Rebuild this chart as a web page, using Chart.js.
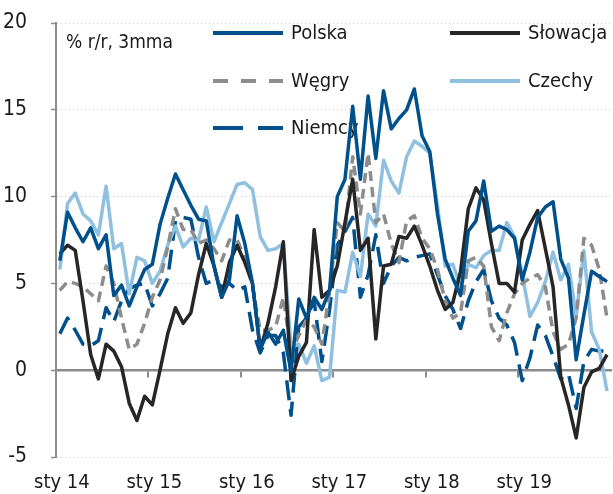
<!DOCTYPE html>
<html><head><meta charset="utf-8">
<script src="https://cdn.jsdelivr.net/npm/chart.js@4.4.0/dist/chart.umd.min.js"></script>
<style>html,body{margin:0;padding:0;background:#fff;}canvas{display:block}</style>
</head><body>
<canvas id="c" width="613" height="494"></canvas>
<script>
const FONT = "'DejaVu Sans Condensed','DejaVu Sans',sans-serif";
const monthNames = ['sty','lut','mar','kwi','maj','cze','lip','sie','wrz','paź','lis','gru'];
const years = ['14','15','16','17','18','19'];
const categories = [];
years.forEach(y => monthNames.forEach(m => categories.push(m + ' ' + y)));
const unitNote = '% r/r, 3mma';
const seriesNames = ['Polska', 'Słowacja', 'Węgry', 'Czechy', 'Niemcy'];

const polska = [6.3, 9.1, 8.2, 7.4, 8.2, 7.0, 7.8, 4.3, 4.9, 3.7, 4.8, 5.8,
  6.1, 8.4, 9.9, 11.3, 10.4, 9.5, 8.7, 8.6, 6.0, 4.2, 5.2, 8.9,
  7.3, 5.0, 1.2, 2.2, 1.5, 2.3, -0.1, 4.1, 3.0, 4.2, 3.5, 4.6,
  10.0, 11.0, 15.2, 11.0, 15.8, 12.2, 16.1, 13.9, 14.5, 15.0, 16.2, 13.5,
  12.6, 9.0, 6.4, 5.3, 4.3, 8.0, 8.6, 10.9, 8.0, 8.3, 8.1, 7.6,
  5.2, 6.8, 8.8, 9.4, 9.7, 6.4, 5.3, 0.6, 3.2, 5.7, 5.4, 5.1];
const slowacja = [6.7, 7.2, 6.9, 4.0, 0.9, -0.5, 1.5, 1.1, 0.2, -1.9, -2.9, -1.5,
  -2.0, 0.0, 2.1, 3.6, 2.7, 3.3, 5.5, 7.3, 6.0, 4.2, 6.2, 7.2,
  6.2, 5.0, 1.2, 2.7, 4.8, 7.4, -0.6, 0.8, 1.6, 8.1, 4.2, 4.6,
  6.0, 8.5, 11.0, 6.9, 7.6, 1.8, 6.0, 6.1, 7.7, 7.6, 8.3, 7.2,
  6.0, 4.6, 3.5, 3.9, 5.7, 9.3, 10.5, 9.8, 7.3, 5.0, 5.0, 4.5,
  7.5, 8.4, 9.2, 7.0, 4.8, -0.4, -2.0, -3.9, -1.0, -0.1, 0.1, 0.9];
const wegry = [4.6, 5.1, 5.0, 4.8, 4.4, 4.0, 6.0, 5.0, 3.0, 1.2, 1.5, 2.7,
  4.2, 5.2, 7.1, 9.3, 8.1, 8.1, 7.3, 7.5, 7.0, 6.3, 7.5, 7.5,
  6.5, 4.8, 2.3, 2.3, 2.5, 4.2, 1.0, 2.0, 2.9, 2.5, 1.5, 4.5,
  8.5, 8.0, 12.3, 9.0, 12.5, 8.5, 9.0, 7.3, 6.2, 8.6, 8.9, 7.6,
  7.0, 5.8, 4.0, 3.0, 3.3, 6.3, 6.5, 6.0, 2.5, 1.7, 3.3, 4.4,
  5.0, 5.3, 5.5, 4.8, 2.2, 1.2, 1.5, 3.0, 7.6, 7.2, 5.8, 3.0];
const czechy = [5.8, 9.6, 10.2, 9.0, 8.6, 7.8, 10.6, 7.0, 7.3, 4.4, 6.5, 6.3,
  5.0, 5.7, 7.2, 8.3, 7.1, 7.6, 7.5, 9.4, 7.4, 8.5, 9.6, 10.7,
  10.8, 10.4, 7.7, 6.9, 7.0, 7.3, 1.3, 1.5, 0.4, 1.4, -0.6, -0.4,
  4.6, 4.5, 6.8, 5.4, 9.0, 8.3, 12.1, 10.9, 10.2, 12.3, 13.2, 12.9,
  12.5, 9.5, 6.0, 6.1, 4.8, 6.1, 5.9, 6.6, 6.9, 6.9, 8.5, 7.7,
  5.5, 3.1, 3.9, 5.1, 6.8, 5.2, 6.1, 3.1, 6.9, 2.2, 1.2, -1.2];
const niemcy = [2.1, 3.0, 2.3, 1.5, 1.4, 1.7, 3.6, 2.8, 4.0, 4.7, 4.9, 5.0,
  3.7, 4.4, 5.3, 8.6, 8.8, 8.7, 6.5, 5.0, 5.2, 4.8, 5.0, 4.6,
  4.8, 2.3, 1.0, 2.0, 2.0, 1.0, -2.6, 2.5, 3.0, 4.0, 0.5, 3.5,
  7.2, 8.0, 8.8, 4.2, 5.5, 7.8, 5.0, 6.0, 6.5, 6.3, 6.5, 6.6,
  6.7, 5.5, 4.3, 3.5, 2.4, 4.0, 5.1, 5.8, 4.0, 3.0, 2.6, 1.6,
  -0.6, 0.7, 2.6, 2.0, 0.8, -0.5, -0.2, -2.2, 0.5, 1.2, 1.1, 1.1];

const colors = ['#00508c', '#262626', '#8c8c8c', '#8fc0e0', '#00508c'];
const dashes = [[], [], [10, 6], [], [20, 9]];
const legendDashes = [[], [], [15, 13], [], [30, 15]];
const values = [polska, slowacja, wegry, czechy, niemcy];

const gridLegend = {
  id: 'gridLegend',
  beforeDatasetsDraw(chart, args, opts) {
    const ctx = chart.ctx;
    ctx.save();
    chart.data.datasets.forEach((ds, i) => {
      const p = opts.layout[i];
      ctx.strokeStyle = ds.borderColor;
      ctx.lineWidth = 4;
      ctx.setLineDash(legendDashes[i]);
      ctx.beginPath();
      ctx.moveTo(p.x, p.y);
      ctx.lineTo(p.x + opts.lineLen, p.y);
      ctx.stroke();
      ctx.setLineDash([]);
      ctx.fillStyle = opts.color;
      ctx.font = opts.font;
      ctx.textBaseline = 'middle';
      ctx.textAlign = 'left';
      ctx.fillText(ds.label, p.x + opts.lineLen + 8, p.y + 1);
    });
    ctx.font = opts.noteFont;
    ctx.fillText(unitNote, opts.note.x, opts.note.y);
    ctx.restore();
  }
};

new Chart(document.getElementById('c'), {
  type: 'line',
  data: {
    labels: categories,
    datasets: seriesNames.map((n, i) => ({
      label: n,
      data: values[i],
      borderColor: colors[i],
      backgroundColor: colors[i],
      borderWidth: 3.5,
      borderDash: dashes[i],
      pointRadius: 0,
      tension: 0,
      fill: false,
      borderJoinStyle: 'round'
    }))
  },
  options: {
    responsive: false,
    animation: false,
    devicePixelRatio: 1,
    layout: { padding: { top: 23, right: 0, left: 0, bottom: 0 } },
    plugins: {
      legend: { display: false },
      tooltip: { enabled: false },
      gridLegend: {
        layout: [{ x: 213, y: 33 }, { x: 450, y: 33 }, { x: 213, y: 81 }, { x: 450, y: 81 }, { x: 213, y: 128 }],
        lineLen: 70,
        color: '#1a1a1a',
        font: '20px ' + FONT,
        noteFont: '19px ' + FONT,
        note: { x: 66, y: 43 }
      }
    },
    scales: {
      x: {
        type: 'category',
        position: 'bottom',
        offset: true,
        grid: { display: false },
        border: { display: false },
        ticks: {
          autoSkip: false,
          maxRotation: 0,
          padding: 6,
          labelOffset: 2,
          color: '#1a1a1a',
          font: { family: FONT, size: 20 },
          callback: function (v, i) { return i % 12 === 0 ? categories[i] : ''; }
        },
        afterFit: s => { s.height = 37; }
      },
      x0: {
        type: 'category',
        axis: 'x',
        position: { y: 0 },
        offset: true,
        grid: {
          offset: true,
          drawOnChartArea: false,
          drawTicks: true,
          tickLength: 6,
          lineWidth: 2,
          color: c => (c.index % 12 === 0 ? '#8c8c8c' : 'rgba(0,0,0,0)')
        },
        border: { display: true, color: '#8c8c8c', width: 2.5 },
        ticks: { display: false }
      },
      y: {
        min: -5,
        max: 20,
        position: 'left',
        ticks: {
          stepSize: 5,
          padding: 24,
          color: '#1a1a1a',
          font: { family: FONT, size: 21 }
        },
        grid: {
          color: c => (c.tick && c.tick.value === 0 ? 'rgba(0,0,0,0)' : '#cfcfcf'),
          lineWidth: 1,
          drawTicks: true,
          tickLength: 5,
          tickColor: '#8c8c8c',
          tickWidth: 1.5
        },
        border: { display: true, color: '#8c8c8c', width: 2, dash: [1, 3] },
        afterFit: s => { s.width = 56; s.paddingTop = 10; s.paddingBottom = 10; }
      }
    }
  },
  plugins: [gridLegend]
});
</script>
</body></html>
